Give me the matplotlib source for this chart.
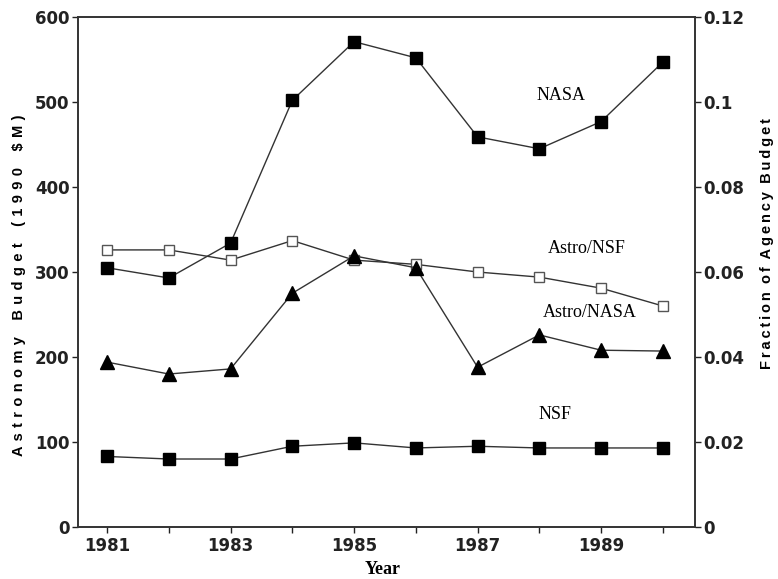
import matplotlib
matplotlib.use("Agg")
import matplotlib.pyplot as plt

years = [1981, 1982, 1983, 1984, 1985, 1986, 1987, 1988, 1989, 1990]
nasa = [305, 293, 334, 502, 571, 552, 459, 445, 477, 547]
nsf = [83, 80, 80, 95, 99, 93, 95, 93, 93, 93]
astro_nsf = [0.0652, 0.0652, 0.0628, 0.0674, 0.0628, 0.0618, 0.0600, 0.0588, 0.0562, 0.0520]
astro_nasa = [0.0388, 0.0360, 0.0372, 0.0550, 0.0638, 0.0610, 0.0376, 0.0452, 0.0416, 0.0414]

left_ticks = [0, 100, 200, 300, 400, 500, 600]
right_ticks = [0, 0.02, 0.04, 0.06, 0.08, 0.1, 0.12]
right_labels = ["0", "0.02", "0.04", "0.06", "0.08", "0.1", "0.12"]
x_ticks = years
x_labels = ["1981", "", "1983", "", "1985", "", "1987", "", "1989", ""]


def spaced(text, gap, wordgap):
    return wordgap.join(gap.join(w) for w in text.split(" "))


fig = plt.figure(figsize=(7.78, 5.79), dpi=100)
ax = fig.add_axes([0.1003, 0.0898, 0.7930, 0.8808])
ax2 = ax.twinx()

lc = "#333333"
ax.plot(years, nasa, color=lc, lw=1.0, marker="s", ms=8, mfc="black", mec="black", zorder=3)
ax.plot(years, nsf, color=lc, lw=1.0, marker="s", ms=8, mfc="black", mec="black", zorder=3)
ax2.plot(years, astro_nsf, color=lc, lw=1.0, marker="s", ms=6.5, mfc="white", mec="#555555", mew=1.0, zorder=3)
ax2.plot(years, astro_nasa, color=lc, lw=1.0, marker="^", ms=10.5, mfc="black", mec="black", zorder=3)

ax.set_xlim(1980.53, 1990.52)
ax.set_ylim(0, 600)
ax2.set_ylim(0, 0.12)

tick_font = dict(family="DejaVu Sans", weight="bold", size=12)
ax.set_xticks(x_ticks)
ax.set_xticklabels(x_labels, **tick_font)
ax.set_yticks(left_ticks)
ax.set_yticklabels([str(t) for t in left_ticks], **tick_font)
ax2.set_yticks(right_ticks)
ax2.set_yticklabels(right_labels, **tick_font)

for a in (ax, ax2):
    a.tick_params(direction="out", length=4, width=1, colors="#222222", pad=2)
    for s in a.spines.values():
        s.set_linewidth(1.2)
        s.set_color("#333333")
ax.tick_params(axis="x", pad=3.5)

lab_font = dict(family="Liberation Sans", weight="bold", size=10.5)
ax.set_ylabel(spaced("Astronomy Budget (1990 $M)", " \u200a", "    "), **lab_font)
ax2.set_ylabel(spaced("Fraction of Agency Budget", "\u2009", "  "), **lab_font)
ax.yaxis.set_label_coords(-0.085, 0.475)
ax2.yaxis.set_label_coords(1.105, 0.555)

fig.text(383 / 778, 1 - 569 / 579, "Year", family="Liberation Serif", weight="bold",
         size=13, ha="center", va="center")

ser_font = dict(family="Liberation Serif", size=13, ha="center", va="center")
ax.text(1988.35, 508, "NASA", **ser_font)
ax.text(1988.77, 328, "Astro/NSF", **ser_font)
ax.text(1988.82, 252, "Astro/NASA", **ser_font)
ax.text(1988.26, 132, "NSF", **ser_font)

fig.savefig("out.png", dpi=100)
